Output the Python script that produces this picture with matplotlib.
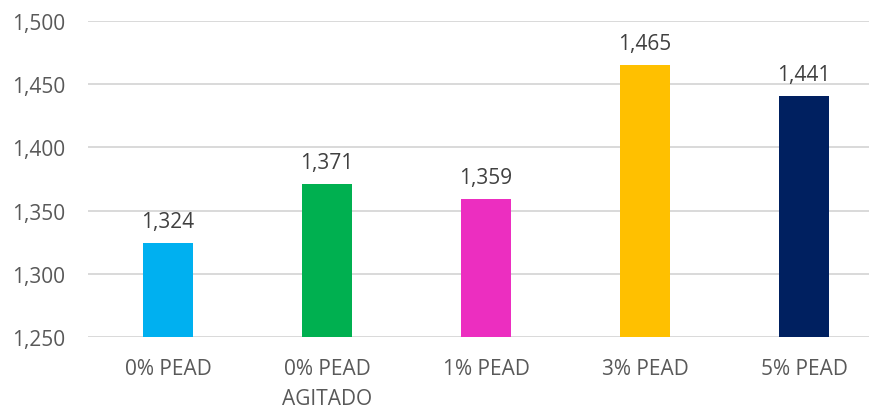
import matplotlib
matplotlib.use("Agg")
import matplotlib.pyplot as plt
from matplotlib.ticker import FuncFormatter

categories = ["0% PEAD", "0% PEAD\nAGITADO", "1% PEAD", "3% PEAD", "5% PEAD"]
values = [1.324, 1.371, 1.359, 1.465, 1.441]
colors = ["#00B0F0", "#00B050", "#EC2EC0", "#FFC000", "#002060"]
yticks = [1.250, 1.300, 1.350, 1.400, 1.450, 1.500]

plt.rcParams["font.family"] = ["Open Sans", "DejaVu Sans"]

def fmt(v):
    return f"{v:.3f}".replace(".", ",")

fig = plt.figure(figsize=(8.69, 4.10), dpi=100)
ax = fig.add_axes([0.1018, 0.1763, 0.9149, 0.7693])

x = list(range(len(categories)))
bars = ax.bar(x, values, width=0.314, color=colors, zorder=2)

ax.set_xlim(-0.5, 4.5)
ax.set_ylim(1.250, 1.500)
ax.set_yticks(yticks)
ax.yaxis.set_major_formatter(FuncFormatter(lambda v, p: fmt(v)))
ax.set_xticks(x)
ax.set_xticklabels(categories, linespacing=1.6)

ax.grid(axis="y", color="#D9D9D9", linewidth=1.4, zorder=0)
for s in ax.spines.values():
    s.set_visible(False)
ax.tick_params(axis="both", length=0, labelsize=15, colors="#595959")
ax.tick_params(axis="y", pad=17)
ax.tick_params(axis="x", pad=15)
for lbl in ax.get_xticklabels():
    lbl.set_verticalalignment("top")

for b, v in zip(bars, values):
    ax.annotate(fmt(v), (b.get_x() + b.get_width() / 2, v),
                xytext=(0, 8), textcoords="offset points",
                ha="center", va="bottom", fontsize=15, color="#404040")

fig.savefig("out.png", dpi=100)
